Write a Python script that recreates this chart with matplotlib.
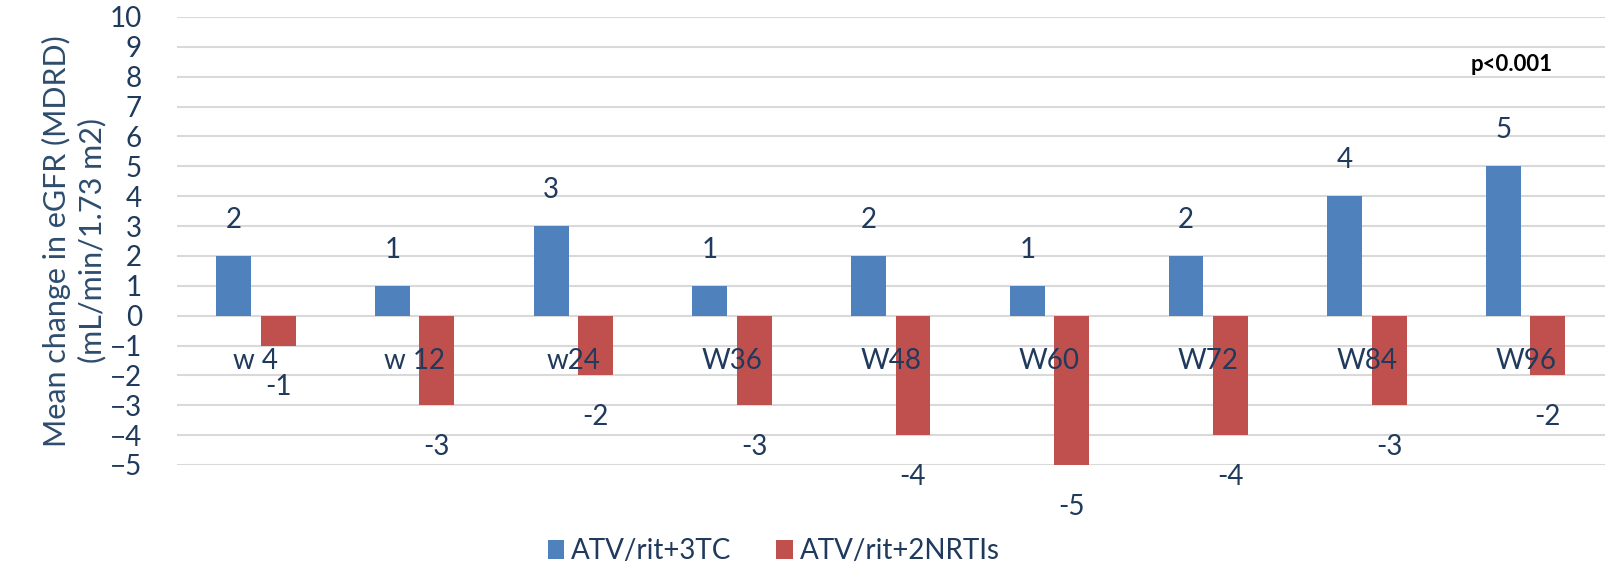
import matplotlib.pyplot as plt
import numpy as np

weeks = ['w 4', 'w 12', 'w24', 'W36', 'W48', 'W60', 'W72', 'W84', 'W96']
atv_3tc = [2, 1, 3, 1, 2, 1, 2, 4, 5]
atv_2nrti = [-1, -3, -2, -3, -4, -5, -4, -3, -2]
series_names = ['ATV/rit+3TC', 'ATV/rit+2NRTIs']
p_text = 'p<0.001'

plt.rcParams['font.family'] = ['Lato', 'DejaVu Sans']
navy = '#1f3a5c'
blue = '#4f81bd'
red = '#c0504d'

fig = plt.figure(figsize=(16.05, 5.65), dpi=100)
ax = fig.add_axes([0.110, 0.177, 0.890, 0.793])

x = np.arange(len(weeks))
w = 0.22
off = 0.14
b1 = ax.bar(x - off, atv_3tc, w, color=blue, label=series_names[0], zorder=3)
b2 = ax.bar(x + off, atv_2nrti, w, color=red, label=series_names[1], zorder=3)

# data labels
for xi, v in zip(x, atv_3tc):
    ax.annotate(str(v), (xi - off, v), xytext=(0, 26), textcoords='offset points',
                ha='center', va='center', fontsize=20, color=navy)
for xi, v in zip(x, atv_2nrti):
    ax.annotate(str(v), (xi + off, v), xytext=(0, -30), textcoords='offset points',
                ha='center', va='center', fontsize=20, color=navy)

# category labels sit just under the zero line
for xi, lab in zip(x, weeks):
    ax.annotate(lab, (xi, 0), xytext=(0, -33), textcoords='offset points',
                ha='center', va='center', fontsize=20, color=navy)

ax.text(7.91, 8.4, p_text, ha='center', va='center', fontsize=16,
        fontweight='bold', color='black')

ax.set_xlim(-0.5, len(weeks) - 0.5)
ax.set_ylim(-5, 10)
ax.set_yticks(range(-5, 11))
ax.set_xticks([])
ax.tick_params(axis='y', length=0, pad=25, labelsize=20, labelcolor=navy)
ax.grid(axis='y', color='#d9d9d9', linewidth=1.5, zorder=0)
for s in ax.spines.values():
    s.set_visible(False)

ax.set_ylabel('Mean change in eGFR (MDRD)\n(mL/min/1.73 m2)', fontsize=22,
              color='#2e4d6e', labelpad=2, linespacing=1.3)

fig.legend(handles=[b1, b2], loc='center', bbox_to_anchor=(0.482, 0.024),
           ncol=2, frameon=False, fontsize=20, handlelength=0.6, handleheight=0.7,
           handletextpad=0.25, columnspacing=1.6, labelcolor=navy)

fig.savefig('out.png', dpi=100)
